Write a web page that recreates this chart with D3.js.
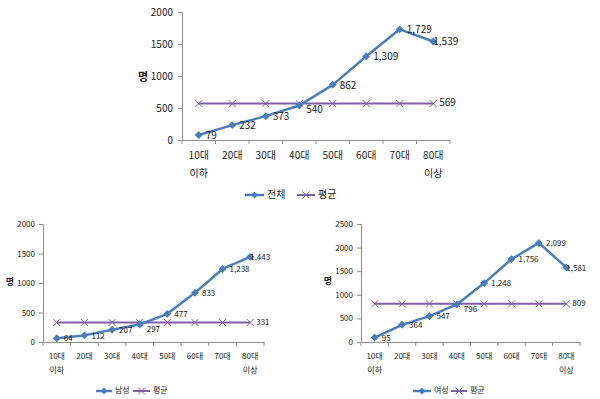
<!DOCTYPE html>
<html><head><meta charset="utf-8">
<script src="https://cdn.jsdelivr.net/npm/d3@7"></script>
<style>
body{margin:0;background:#fff;}
svg{display:block;}
text{font-family:"Noto Sans CJK KR","Noto Sans",sans-serif;fill:#222;}
</style></head><body>
<svg id="c" width="600" height="399"></svg>
<script>
const categories = ["10대|이하","20대","30대","40대","50대","60대","70대","80대|이상"];
const totalValues = [79,232,373,540,862,1309,1729,1539];
const totalAvg = 569;
const maleValues = [64,112,207,297,477,833,1238,1443];
const maleAvg = 331;
const femaleValues = [95,364,547,796,1248,1756,2099,1581];
const femaleAvg = 809;
const totalTicks = [0,500,1000,1500,2000];
const maleTicks = [0,500,1000,1500,2000];
const femaleTicks = [0,500,1000,1500,2000,2500];
const legendNames = {total:"전체", male:"남성", female:"여성", avg:"평균"};
const yLabel = "명";

const BLUE = "#4a7ebb", PURPLE = "#7f5fa5", AXIS = "#8c8c8c";
const fmt = d3.format(",");
const svg = d3.select("#c");

function chart(cfg){
  const fs = cfg.fs;
  const g = svg.append("g");
  const x = d3.scaleBand().domain(categories).range([cfg.x0, cfg.x1]);
  const y = d3.scaleLinear().domain([0, d3.max(cfg.ticks)]).range([cfg.y0, cfg.yTop]);
  // y axis
  const ya = g.append("g").attr("transform",`translate(${cfg.x0},0)`)
    .call(d3.axisLeft(y).tickValues(cfg.ticks).tickSize(4).tickPadding(cfg.pad).tickFormat(d3.format("d")));
  ya.select(".domain").attr("stroke",AXIS);
  ya.selectAll(".tick line").attr("stroke",AXIS);
  ya.selectAll("text").attr("font-size",fs).attr("fill","#222").style("font-family",'"Noto Sans CJK KR",sans-serif');
  // x axis
  const xa = g.append("g").attr("transform",`translate(0,${cfg.y0})`)
    .call(d3.axisBottom(x).tickSize(0).tickFormat(""));
  xa.select(".domain").attr("stroke",AXIS);
  const bounds = categories.map(c=>x(c)).concat([cfg.x1]);
  g.selectAll(".sep").data(bounds).enter().append("line")
    .attr("x1",d=>d).attr("x2",d=>d).attr("y1",cfg.y0).attr("y2",cfg.y0+4).attr("stroke",AXIS);
  categories.forEach(c=>{
    const parts = c.split("|");
    parts.forEach((p,i)=>{
      g.append("text").attr("x",x(c)+x.bandwidth()/2).attr("y",cfg.y0+cfg.cat1+i*cfg.catGap)
        .attr("text-anchor","middle").attr("dominant-baseline","middle").attr("font-size",fs).text(p);
    });
  });
  g.append("text").attr("x",cfg.ylx).attr("y",cfg.yly).attr("text-anchor","middle")
    .attr("dominant-baseline","middle").attr("font-size",fs+1).attr("font-weight","bold").text(yLabel);
  const cx = c=>x(c)+x.bandwidth()/2;
  // avg line
  g.append("line").attr("x1",cx(categories[0])).attr("x2",cx(categories[categories.length-1]))
    .attr("y1",y(cfg.avg)).attr("y2",y(cfg.avg)).attr("stroke",PURPLE).attr("stroke-width",2);
  categories.forEach(c=>{
    const px=cx(c), py=y(cfg.avg), s=3.5;
    g.append("path").attr("d",`M${px-s},${py-s}L${px+s},${py+s}M${px-s},${py+s}L${px+s},${py-s}`)
      .attr("stroke",PURPLE).attr("stroke-width",1);
  });
  g.append("text").attr("x",cx(categories[categories.length-1])+6).attr("y",y(cfg.avg))
    .attr("dominant-baseline","middle").attr("font-size",fs).text(fmt(cfg.avg));
  // series line
  const line = d3.line().x((d,i)=>cx(categories[i])).y(d=>y(d));
  g.append("path").datum(cfg.values).attr("d",line).attr("fill","none")
    .attr("stroke",BLUE).attr("stroke-width",2.5).attr("stroke-linejoin","round");
  g.selectAll(".pt").data(cfg.values).enter().append("path")
    .attr("transform",(d,i)=>`translate(${cx(categories[i])},${y(d)})`)
    .attr("d",d3.symbol().type(d3.symbolDiamond2).size(40)).attr("fill",BLUE);
  const n = cfg.values.length;
  g.selectAll(".lbl").data(cfg.values).enter().append("text")
    .attr("x",(d,i)=>cx(categories[i]) + (i===n-1 ? 0 : 7))
    .attr("y",(d,i)=>y(d) + (Math.abs(y(d)-y(cfg.avg))<6 && i>0 ? 5 : 1))
    .attr("dominant-baseline","middle").attr("font-size",fs).text(d=>fmt(d));
  // legend
  const L = cfg.legend;
  g.append("line").attr("x1",L.b0).attr("x2",L.b1).attr("y1",L.y).attr("y2",L.y).attr("stroke",BLUE).attr("stroke-width",2.5);
  g.append("path").attr("transform",`translate(${(L.b0+L.b1)/2},${L.y})`)
    .attr("d",d3.symbol().type(d3.symbolDiamond2).size(30)).attr("fill",BLUE);
  g.append("text").attr("x",L.b1+3).attr("y",L.y).attr("dominant-baseline","middle").attr("font-size",fs).text(cfg.name);
  g.append("line").attr("x1",L.p0).attr("x2",L.p1).attr("y1",L.y).attr("y2",L.y).attr("stroke",PURPLE).attr("stroke-width",2);
  const m=(L.p0+L.p1)/2, s=3.5;
  g.append("path").attr("d",`M${m-s},${L.y-s}L${m+s},${L.y+s}M${m-s},${L.y+s}L${m+s},${L.y-s}`).attr("stroke",PURPLE);
  g.append("text").attr("x",L.p1+3).attr("y",L.y).attr("dominant-baseline","middle").attr("font-size",fs).text(legendNames.avg);
}

chart({x0:182,x1:450,y0:140,yTop:12,ticks:totalTicks,values:totalValues,avg:totalAvg,fs:10,pad:5,cat1:16,catGap:18,
  name:legendNames.total,ylx:143,yly:78,legend:{y:195,b0:245,b1:264,p0:297,p1:315}});
chart({x0:43,x1:264,y0:342,yTop:224,ticks:maleTicks,values:maleValues,avg:maleAvg,fs:8,pad:4,cat1:15,catGap:14,
  name:legendNames.male,ylx:10,yly:283,legend:{y:391,b0:96,b1:112,p0:133,p1:150}});
chart({x0:361,x1:580,y0:342,yTop:224,ticks:femaleTicks,values:femaleValues,avg:femaleAvg,fs:8,pad:4,cat1:15,catGap:14,
  name:legendNames.female,ylx:328,yly:282,legend:{y:391,b0:413,b1:431,p0:451,p1:467}});
</script>
</body></html>
